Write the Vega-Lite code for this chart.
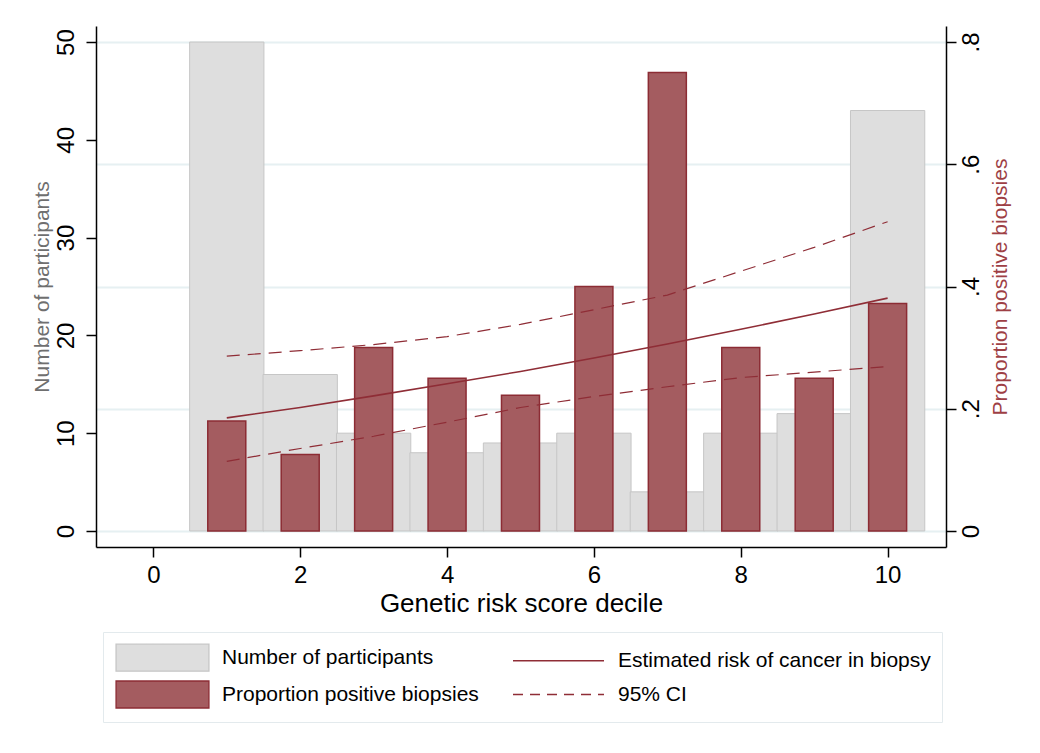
{
  "$schema": "https://vega.github.io/schema/vega-lite/v6.json",
  "width": 850,
  "height": 521,
  "autosize": {"type": "none"},
  "padding": {"left": 96, "top": 26, "right": 94, "bottom": 206},
  "background": "white",
  "config": {
    "view": {"stroke": null},
    "font": "Liberation Sans",
    "axis": {
      "domainColor": "black",
      "domainWidth": 1.5,
      "tickColor": "black",
      "tickWidth": 1.5,
      "tickSize": 10,
      "labelColor": "black",
      "labelFont": "Liberation Sans",
      "titleFont": "Liberation Sans",
      "titleFontWeight": "normal",
      "labelFlush": false,
      "labelOverlap": false,
      "grid": false
    },
    "legend": {
      "orient": "none",
      "legendX": 7,
      "legendY": 606,
      "columns": 2,
      "direction": "horizontal",
      "symbolSize": 729,
      "symbolOffset": 34,
      "symbolOpacity": 1,
      "symbolStrokeWidth": 1.3,
      "labelOffset": 45,
      "labelFontSize": 21,
      "labelFont": "Liberation Sans",
      "labelColor": "black",
      "labelLimit": 500,
      "rowPadding": 4,
      "columnPadding": 31,
      "padding": 11,
      "strokeColor": "#e3eaed",
      "fillColor": "white"
    }
  },
  "data": {
    "values": [
      {"decile": 1, "n": 50, "prop": 0.18, "est": 0.185, "lo": 0.114, "hi": 0.286},
      {"decile": 2, "n": 16, "prop": 0.125, "est": 0.202, "lo": 0.135, "hi": 0.295},
      {"decile": 3, "n": 10, "prop": 0.3, "est": 0.221, "lo": 0.155, "hi": 0.305},
      {"decile": 4, "n": 8, "prop": 0.25, "est": 0.241, "lo": 0.178, "hi": 0.318},
      {"decile": 5, "n": 9, "prop": 0.2222, "est": 0.261, "lo": 0.202, "hi": 0.338},
      {"decile": 6, "n": 10, "prop": 0.4, "est": 0.283, "lo": 0.22, "hi": 0.362},
      {"decile": 7, "n": 4, "prop": 0.75, "est": 0.306, "lo": 0.236, "hi": 0.386},
      {"decile": 8, "n": 10, "prop": 0.3, "est": 0.33, "lo": 0.251, "hi": 0.425},
      {"decile": 9, "n": 12, "prop": 0.25, "est": 0.355, "lo": 0.26, "hi": 0.464},
      {"decile": 10, "n": 43, "prop": 0.3721, "est": 0.381, "lo": 0.269, "hi": 0.506}
    ]
  },
  "encoding": {
    "x": {
      "field": "decile",
      "type": "quantitative",
      "scale": {"domain": [-0.713, 10.727], "nice": false, "zero": false},
      "axis": {
        "title": "Genetic risk score decile",
        "values": [0, 2, 4, 6, 8, 10],
        "labelFontSize": 24,
        "labelPadding": 6,
        "titleFontSize": 26,
        "titlePadding": 3,
        "titleColor": "black"
      }
    }
  },
  "layer": [
    {
      "mark": {"type": "bar", "width": 74.3, "fill": "#dedede", "stroke": "#c6c6c6", "strokeWidth": 1, "opacity": 1},
      "encoding": {
        "y": {
          "field": "n",
          "type": "quantitative",
          "scale": {"domain": [-1.64, 51.64], "nice": false, "zero": false},
          "axis": {
            "orient": "left",
            "title": "Number of participants",
            "values": [0, 10, 20, 30, 40, 50],
            "labelAngle": 270,
            "labelAlign": "center",
            "labelBaseline": "bottom",
            "labelFontSize": 24,
            "labelPadding": 8,
            "titleFontSize": 21,
            "titleColor": "#6f6f6f",
            "titlePadding": 2
          }
        },
        "y2": {"datum": 0}
      }
    },
    {
      "layer": [
        {
          "mark": {"type": "bar", "width": 38, "fill": "#a45c60", "stroke": "#8c2c34", "strokeWidth": 1.5, "opacity": 1},
          "encoding": {
            "y": {
              "field": "prop",
              "type": "quantitative",
              "scale": {"domain": [-0.0262, 0.8262], "nice": false, "zero": false},
              "axis": {
                "orient": "right",
                "title": "Proportion positive biopsies",
                "values": [0, 0.2, 0.4, 0.6, 0.8],
                "labelExpr": "datum.value == 0 ? '0' : replace(format(datum.value, '.1f'), '0.', '.')",
                "grid": true,
                "gridColor": "#e6f0f2",
                "gridWidth": 2,
                "labelAngle": 270,
                "labelAlign": "center",
                "labelBaseline": "top",
                "labelFontSize": 24,
                "labelPadding": 3,
                "titleFontSize": 21,
                "titleColor": "#9e3f45",
                "titleAngle": 270,
                "titleBaseline": "top",
                "titlePadding": 6
              }
            },
            "y2": {"datum": 0}
          }
        },
        {
          "mark": {"type": "line", "color": "#8f2d36", "strokeWidth": 1.6},
          "encoding": {"y": {"field": "est", "type": "quantitative"}}
        },
        {
          "mark": {"type": "line", "color": "#8f2d36", "strokeWidth": 1.2, "strokeDash": [13, 8]},
          "encoding": {"y": {"field": "hi", "type": "quantitative"}}
        },
        {
          "mark": {"type": "line", "color": "#8f2d36", "strokeWidth": 1.2, "strokeDash": [13, 8]},
          "encoding": {"y": {"field": "lo", "type": "quantitative"}}
        }
      ]
    },
    {
      "data": {
        "values": [
          {"series": "Number of participants"},
          {"series": "Estimated risk of cancer in biopsy"},
          {"series": "Proportion positive biopsies"},
          {"series": "95% CI"}
        ]
      },
      "mark": {"type": "point", "filled": true, "opacity": 0, "strokeWidth": 1.3},
      "encoding": {
        "color": {
          "field": "series",
          "type": "nominal",
          "title": null,
          "scale": {
            "domain": ["Number of participants", "Estimated risk of cancer in biopsy", "Proportion positive biopsies", "95% CI"],
            "range": ["#dedede", "transparent", "#a45c60", "transparent"]
          }
        },
        "stroke": {
          "field": "series",
          "type": "nominal",
          "title": null,
          "scale": {
            "domain": ["Number of participants", "Estimated risk of cancer in biopsy", "Proportion positive biopsies", "95% CI"],
            "range": ["#c6c6c6", "#8f2d36", "#8c2c34", "#8f2d36"]
          }
        },
        "shape": {
          "field": "series",
          "type": "nominal",
          "title": null,
          "scale": {
            "domain": ["Number of participants", "Estimated risk of cancer in biopsy", "Proportion positive biopsies", "95% CI"],
            "range": ["M-3.44,-1H3.44V1H-3.44Z", "M-3.37,0H3.37", "M-3.44,-1H3.44V1H-3.44Z", "M-3.37,0H3.37"]
          }
        },
        "strokeDash": {
          "field": "series",
          "type": "nominal",
          "title": null,
          "scale": {
            "domain": ["Number of participants", "Estimated risk of cancer in biopsy", "Proportion positive biopsies", "95% CI"],
            "range": [[1, 0], [1, 0], [1, 0], [10, 7]]
          }
        }
      }
    }
  ],
  "resolve": {"scale": {"y": "independent"}}
}
